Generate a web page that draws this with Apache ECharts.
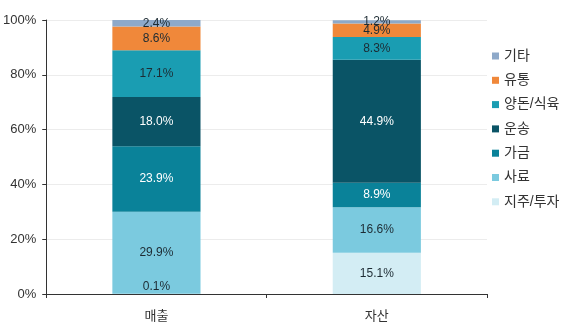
<!DOCTYPE html>
<html>
<head>
<meta charset="utf-8">
<script src="https://cdn.jsdelivr.net/npm/echarts@6/dist/echarts.min.js"></script>
<style>
  html, body { margin: 0; padding: 0; background: #fff; }
  #chart { width: 563px; height: 328px; }
</style>
</head>
<body>
<div id="chart"></div>
<script>
const categories = ["매출", "자산"];
const seriesNames = ["지주/투자", "사료", "가금", "운송", "양돈/식육", "유통", "기타"];
const jiju = [0.1, 15.1];
const saryo = [29.9, 16.6];
const gageum = [23.9, 8.9];
const unsong = [18.0, 44.9];
const yangdon = [17.1, 8.3];
const yutong = [8.6, 4.9];
const gita = [2.4, 1.2];
const yTicks = [0, 20, 40, 60, 80, 100];

const values = [jiju, saryo, gageum, unsong, yangdon, yutong, gita];
const colors = ["#d3edf4", "#7bcadf", "#0a8299", "#0a5466", "#1a9db2", "#f0883a", "#8ea9c9"];
const labelColors = ["#1d2b33", "#1d2b33", "#ffffff", "#ffffff", "#1d2b33", "#1d2b33", "#1d2b33"];
const font = "Liberation Sans, Arial, Noto Sans CJK KR, sans-serif";

const chart = echarts.init(document.getElementById("chart"), null, { renderer: "canvas" });

const series = seriesNames.map((name, i) => ({
  name: name,
  type: "bar",
  stack: "total",
  barWidth: "40%",
  itemStyle: { color: colors[i] },
  label: {
    show: true,
    position: "inside",
    color: labelColors[i],
    fontSize: 12,
    fontFamily: font,
    formatter: p => p.value.toFixed(1) + "%"
  },
  data: values[i].map((v, j) => {
    // the tiny 0.1% slice has its label lifted into the bar above
    if (i === 0 && j === 0) {
      return { value: v, label: { offset: [0, -7] } };
    }
    return v;
  })
}));

chart.setOption({
  animation: false,
  color: colors,
  grid: { left: 46, right: 76, top: 20, bottom: 34 },
  legend: {
    orient: "vertical",
    left: 487,
    top: 44,
    icon: "rect",
    itemWidth: 7,
    itemHeight: 7,
    itemGap: 10.3,
    textStyle: { fontSize: 14, color: "#333", fontFamily: font },
    data: seriesNames.slice().reverse()
  },
  xAxis: {
    type: "category",
    data: categories,
    axisLine: { lineStyle: { color: "#333", width: 1 } },
    axisTick: { show: true, length: 4, lineStyle: { color: "#333" } },
    axisLabel: { fontSize: 13, color: "#333", margin: 16, fontFamily: font }
  },
  yAxis: {
    type: "value",
    min: 0,
    max: 100,
    interval: 20,
    axisLine: { show: true, lineStyle: { color: "#333", width: 1 } },
    axisTick: { show: true, length: 4, lineStyle: { color: "#333" } },
    axisLabel: {
      fontSize: 13,
      color: "#333",
      margin: 10,
      fontFamily: font,
      formatter: v => (yTicks.includes(v) ? v + "%" : "")
    },
    splitLine: { lineStyle: { color: "#ececec" } }
  },
  series: series
});

window.addEventListener("resize", chart.resize);
</script>
</body>
</html>
